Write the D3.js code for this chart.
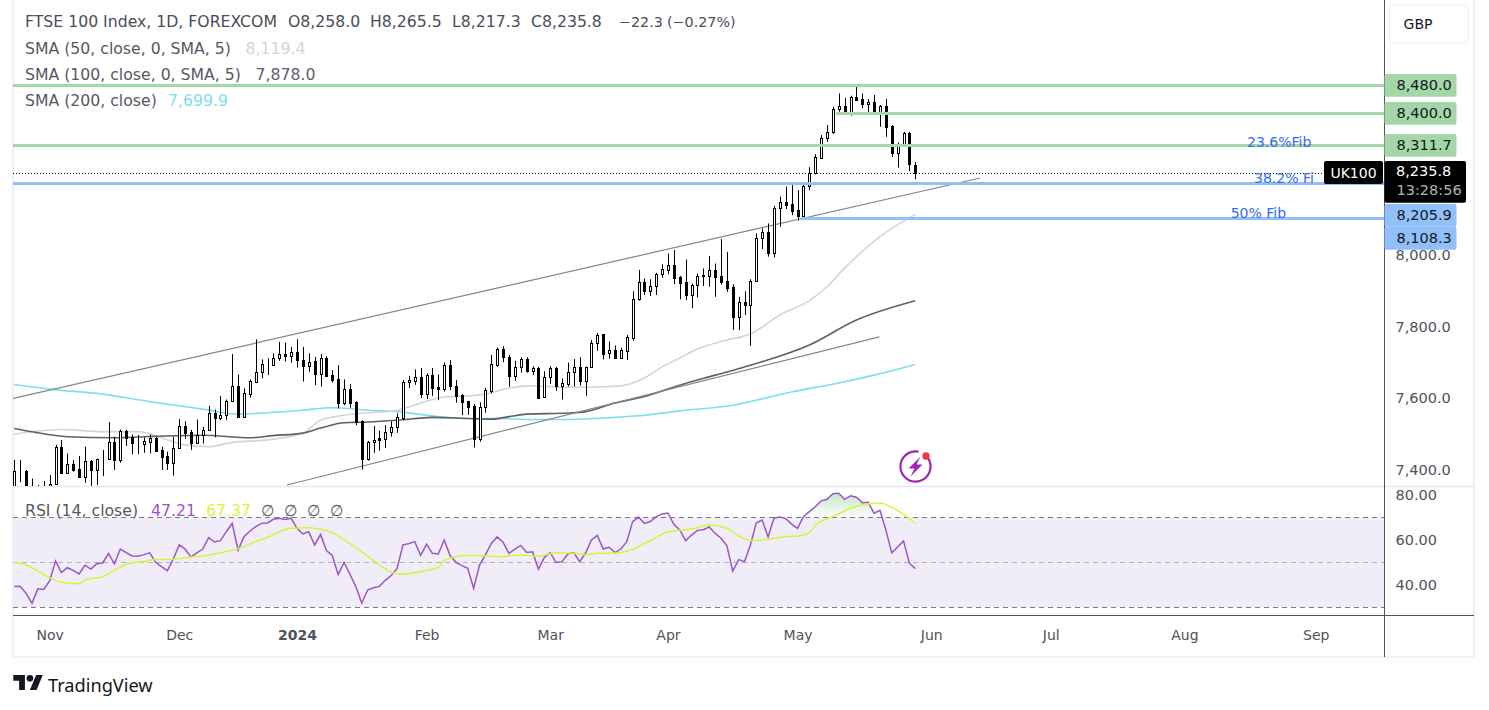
<!DOCTYPE html>
<html>
<head>
<meta charset="utf-8">
<title>FTSE 100 Index</title>
<script src="https://cdn.jsdelivr.net/npm/d3@7"></script>
<style>
body{margin:0;background:#fff;}
svg{display:block;}
text{font-family:"DejaVu Sans",sans-serif;}
</style>
</head>
<body>
<svg id="chart" width="1489" height="710"></svg>
<script>
// daily candles, one entry per bar
const opens=[7340,7402,7402,7349,7335,7345,7344,7367,7469,7397,7423,7408,7386,7429,7405,7437,7436,7482,7433,7513,7496,7482,7478,7484,7494,7461,7444,7425,7465,7527,7511,7481,7502,7517,7563,7551,7558,7597,7639,7554,7618,7652,7678,7700,7699,7717,7728,7724,7736,
7712,7696,7709,7674,7718,7670,7659,7592,7631,7594,7543,7436,7482,7493,7492,7510,7524,7551,7650,7654,7664,7618,7669,7636,7632,7697,7641,7614,7597,7583,7491,7580,7627,7699,7743,7720,7668,7692,7715,7682,7689,7608,7664,7689,7640,7646,7679,7692,7654,7693,7759,
7785,7731,7740,7718,7738,7775,7883,7929,7906,7918,7952,7965,7977,7944,7930,7895,7921,7948,7948,7963,7946,7932,7915,7833,7873,7867,7932,8052,8069,8012,8136,8153,8147,8131,8115,8198,8236,8278,8332,8350,8415,8423,8404,8446,8441,8427,8432,8406,8421,8366,8292,8317,8347,8258];
const highs=[7433,7433,7405,7381,7363,7374,7391,7475,7489,7451,7433,7444,7470,7433,7437,7461,7539,7498,7518,7517,7504,7503,7496,7504,7498,7470,7456,7498,7547,7541,7517,7546,7526,7584,7574,7612,7602,7729,7672,7633,7658,7770,7714,7717,7731,7763,7761,7749,7770,
7749,7731,7721,7729,7723,7684,7698,7658,7645,7597,7544,7486,7528,7515,7530,7541,7563,7656,7668,7686,7690,7675,7690,7672,7705,7712,7656,7617,7598,7589,7594,7634,7726,7747,7751,7727,7710,7720,7720,7695,7693,7681,7695,7693,7661,7705,7715,7720,7694,7768,7788,
7785,7764,7753,7746,7782,7904,7964,7940,7938,7956,7980,8010,8020,7947,7993,7926,7954,7968,8003,7982,8050,8014,7924,7889,7904,7938,8066,8080,8094,8143,8169,8197,8201,8187,8206,8251,8287,8341,8369,8420,8457,8445,8451,8475,8457,8442,8453,8425,8442,8369,8320,8350,8350,8265.5];
const lows=[7330,7371,7340,7320,7310,7315,7330,7365,7397,7397,7400,7383,7369,7360,7363,7388,7435,7405,7425,7472,7449,7449,7453,7451,7456,7405,7405,7389,7465,7492,7461,7481,7479,7515,7496,7544,7544,7596,7552,7552,7607,7652,7661,7670,7697,7710,7708,7705,7691,
7652,7679,7642,7638,7668,7649,7577,7586,7579,7530,7406,7431,7453,7459,7466,7498,7509,7544,7634,7643,7606,7603,7612,7600,7624,7628,7593,7558,7559,7468,7484,7565,7619,7693,7706,7638,7654,7677,7677,7670,7604,7607,7645,7626,7602,7638,7638,7641,7612,7693,7738,
7714,7716,7716,7716,7712,7766,7878,7894,7891,7894,7942,7952,7924,7882,7880,7857,7887,7919,7917,7889,7923,7903,7796,7796,7838,7752,7931,8022,8001,7999,8085,8134,8117,8102,8115,8187,8231,8276,8322,8344,8406,8402,8395,8436,8416,8404,8404,8364,8336,8280,8250,8316,8240,8217.3];
const closes=[7402,7402,7349,7335,7345,7340,7367,7469,7397,7423,7405,7386,7429,7405,7435,7437,7482,7433,7514,7493,7481,7482,7486,7493,7459,7442,7425,7465,7527,7509,7481,7502,7518,7563,7551,7558,7598,7639,7554,7619,7653,7678,7700,7700,7717,7728,7724,7736,7712,
7695,7708,7673,7718,7668,7656,7592,7630,7592,7540,7436,7483,7490,7489,7510,7524,7552,7650,7655,7664,7618,7669,7635,7632,7697,7640,7612,7596,7582,7491,7580,7628,7700,7743,7720,7668,7692,7714,7682,7689,7607,7664,7689,7640,7647,7680,7692,7654,7694,7759,7783,
7729,7740,7718,7740,7777,7884,7929,7906,7918,7952,7966,7977,7942,7928,7895,7922,7946,7949,7963,7945,7930,7914,7833,7873,7867,7933,8052,8069,8012,8136,8153,8145,8129,8115,8198,8236,8279,8332,8350,8415,8423,8406,8446,8439,8427,8432,8406,8421,8364,8292,8317,8346,8259,8235.8];

// moving averages read at a handful of bars
const sma50Bars=[0,8,15,21,26,29,33,37,43,49,52,56,60,65,69,73,77,80,84,88,94,99,103,107,110,113,116,121,125,130,135,138,141,147,153];
const sma50Values=[7505,7518,7512,7512,7489,7475,7470,7482,7489,7508,7544,7558,7565,7572,7592,7609,7612,7617,7634,7640,7636,7637,7640,7662,7693,7718,7743,7768,7785,7838,7878,7917,7969,8057,8119.4];
const sma100Bars=[0,3,9,17,24,32,40,44,49,52,56,60,65,71,77,81,84,87,94,97,102,107,113,119,124,135,143,153];
const sma100Values=[7521,7512,7498,7495,7499,7502,7495,7501,7508,7522,7537,7539,7544,7552,7549,7547,7554,7561,7564,7568,7592,7610,7642,7670,7693,7754,7824,7878];
const sma200Bars=[0,6,15,23,32,38,43,49,54,60,65,71,77,82,88,94,99,102,107,113,122,132,140,146,153];
const sma200Values=[7644,7631,7617,7596,7575,7561,7565,7572,7579,7572,7568,7556,7549,7549,7546,7546,7549,7552,7558,7570,7586,7623,7648,7670,7699.9];

const rsiValues=[39.2,39.3,36.2,31.8,38.2,37.9,41.7,50.6,45.4,47.6,46.4,44.8,48.7,47.0,49.4,49.7,53.9,49.3,55.9,54.3,52.8,52.7,53.4,54.2,50.0,48.1,46.3,51.5,57.7,55.9,52.4,54.2,55.9,61.0,59.0,59.6,63.6,67.3,55.3,61.4,63.8,65.9,67.3,67.5,69.1,69.6,69.0,69.6,65.1,62.6,63.6,57.7,62.4,55.2,53.0,44.5,49.9,44.7,39.2,31.9,37.7,38.7,39.3,42.0,44.1,47.3,57.7,58.3,59.2,53.1,58.0,54.0,53.7,59.9,53.0,50.0,48.5,47.3,38.4,48.8,
53.3,58.4,61.3,58.9,54.0,55.9,57.5,54.4,54.7,46.9,52.1,54.3,49.9,50.3,53.7,54.3,50.3,54.0,59.9,61.9,55.9,56.7,54.3,55.9,59.2,68.1,70.1,67.3,68.1,70.3,71.5,71.9,66.9,64.4,59.6,62.1,64.2,64.5,65.7,62.9,60.7,57.4,46.1,51.2,50.3,57.7,67.6,68.8,61.3,69.6,70.1,69.4,67.0,65.1,70.3,72.5,74.7,77.3,78.0,80.5,80.7,78.0,79.6,78.9,76.5,76.7,71.8,73.1,64.4,54.2,56.8,59.5,49.6,47.21];
const rsiSmaBars=[0,2,4,6,8,11,12,15,17,19,22,24,27,30,32,35,38,41,43,45,47,50,51,54,56,59,62,64,66,69,72,73,77,79,82,86,89,92,95,97,99,102,105,107,109,111,115,118,121,123,125,128,131,133,135,136,139,142,147,149,151,153];
const rsiSmaValues=[49.9,48.8,46.1,43.2,41.1,40.5,42.2,43.6,46.5,49.1,50.4,51.2,51.3,52.4,52.8,54.2,56.1,59.2,61,63.6,65.1,65.4,65.1,63.2,60.1,54.7,48.8,45.6,44.7,45.9,47.8,50.9,53,53,52.5,53.3,52.7,54.3,54,53.3,54,54.1,55.8,58.3,61,63.6,64.8,66.6,65.1,61.8,59.6,60.2,61.4,61.7,63.2,66.3,70.3,74,76.4,74.4,71.3,67.37];

// drawings on the price pane
const greenLevels=[8480,8400,8311.7];
const greenStarts=[-1,139.5,-1];
const blueLevels=[8205.9,8108.3];
const blueStarts=[-1,133.7];
const upperTrendBars=[-0.2,164];
const upperTrendPrices=[7605,8221];
const lowerTrendBars=[46.3,146.9];
const lowerTrendPrices=[7363,7777];
const fibLabels=["23.6%Fib","38.2% Fi","50% Fib"];
const lastPrice=8235.8;

const priceTicks=[8000,7800,7600,7400];
const rsiTicks=[80,60,40];
const timeBars=[6,28,48,70,91,111,133,155.7,176,198.7,221];
const timeLabels=["Nov","Dec","2024","Feb","Mar","Apr","May","Jun","Jul","Aug","Sep"];

const axisColor="#50535e", textColor="#4f525c";
const paneL=13, paneR=1384.5, priceBottom=486;
const legendSize=15.7, scaleSize=14.5;

const svg=d3.select("#chart");

const x=d3.scaleLinear().domain([0,153]).range([14.3,915.3]);
const yP=d3.scaleLinear().domain([8480,8108.3]).range([85.3,218.3]);
const yR=d3.scaleLinear().domain([70,30]).range([517.3,607.3]);

const defs=svg.append("defs");
defs.append("clipPath").attr("id","priceClip").append("rect")
    .attr("x",paneL).attr("y",0).attr("width",paneR-paneL).attr("height",priceBottom);
const grad=defs.append("linearGradient").attr("id","obFill")
    .attr("gradientUnits","userSpaceOnUse")
    .attr("x1",0).attr("x2",0).attr("y1",yR(81)).attr("y2",yR(70));
grad.append("stop").attr("offset",0).attr("stop-color","#4caf50").attr("stop-opacity",0.32);
grad.append("stop").attr("offset",1).attr("stop-color","#4caf50").attr("stop-opacity",0.02);

//frame
function frameLine(x1,y1,x2,y2,color,w){
    svg.append("line").attr("x1",x1).attr("y1",y1).attr("x2",x2).attr("y2",y2)
        .attr("stroke",color).attr("stroke-width",w);
}
frameLine(13,0,13,657,"#f0f0f7",2.5);
frameLine(13,657,1474,657,"#f0f0f7",2);
frameLine(1474,0,1474,657,"#f0f0f7",2);
frameLine(13,486.5,1474,486.5,"#e6e6ee",1.5);

//rsi background
svg.append("rect").attr("x",paneL).attr("y",yR(70)).attr("width",paneR-paneL).attr("height",yR(30)-yR(70)).attr("fill","#f0edf8");
[70,50,30].forEach(function(v){
    const yy=Math.round(yR(v))+0.5;
    svg.append("line").attr("x1",paneL).attr("x2",paneR).attr("y1",yy).attr("y2",yy)
        .attr("stroke",v==50?"#b2b0bc":"#787b86").attr("stroke-dasharray","5 4");
});

//price pane
const pane=svg.append("g").attr("clip-path","url(#priceClip)");

function drawSma(bars,values,color){
    const line=d3.line().x((d,i)=>x(bars[i])).y(d=>yP(d)).curve(d3.curveMonotoneX);
    pane.append("path").datum(values).attr("d",line).attr("fill","none")
        .attr("stroke",color).attr("stroke-width",1.6);
}
drawSma(sma200Bars,sma200Values,"#80deea");
drawSma(sma50Bars,sma50Values,"#d1d4dc");
drawSma(sma100Bars,sma100Values,"#5d606b");

function drawTrend(bars,prices){
    pane.append("line").attr("x1",x(bars[0])).attr("y1",yP(prices[0]))
        .attr("x2",x(bars[1])).attr("y2",yP(prices[1]))
        .attr("stroke","#85858f").attr("stroke-width",1.2);
}
drawTrend(upperTrendBars,upperTrendPrices);
drawTrend(lowerTrendBars,lowerTrendPrices);

//candles, snapped to the pixel grid so the outlines stay sharp
const barX=i=>Math.round(x(i))+0.5;
const snapY=p=>Math.round(yP(p))+0.5;
pane.selectAll("line.wick").data(closes).join("line").attr("class","wick")
    .attr("x1",(d,i)=>barX(i)).attr("x2",(d,i)=>barX(i))
    .attr("y1",(d,i)=>yP(highs[i])).attr("y2",(d,i)=>yP(lows[i]))
    .attr("stroke","#000").attr("stroke-width",1);
pane.selectAll("rect.body").data(closes).join("rect").attr("class","body")
    .attr("x",(d,i)=>barX(i)-1).attr("width",2)
    .attr("y",(d,i)=>snapY(Math.max(opens[i],d)))
    .attr("height",(d,i)=>Math.abs(snapY(opens[i])-snapY(d)))
    .attr("fill",(d,i)=>d>=opens[i]?"#fff":"#000")
    .attr("stroke","#000").attr("stroke-width",1);

//levels
const levelY=v=>Math.floor(yP(v))+0.5;
greenLevels.forEach(function(v,i){
    svg.append("line").attr("x1",greenStarts[i]<0?paneL:x(greenStarts[i])).attr("x2",paneR)
        .attr("y1",levelY(v)).attr("y2",levelY(v)).attr("stroke","#a5d6a7").attr("stroke-width",3);
});
blueLevels.forEach(function(v,i){
    svg.append("line").attr("x1",blueStarts[i]<0?paneL:x(blueStarts[i])).attr("x2",paneR)
        .attr("y1",levelY(v)).attr("y2",levelY(v)).attr("stroke","#90bff9").attr("stroke-width",3);
});
svg.append("line").attr("x1",paneL).attr("x2",paneR).attr("y1",Math.round(yP(lastPrice))+0.5).attr("y2",Math.round(yP(lastPrice))+0.5)
    .attr("stroke","#000").attr("stroke-dasharray","1 2");

function label(txt,px,py,color,size,anchor,weight){
    return svg.append("text").attr("x",px).attr("y",py).text(txt)
        .attr("fill",color).attr("font-size",size||14)
        .attr("text-anchor",anchor||"start").attr("font-weight",weight||"normal")
        .attr("dominant-baseline","central");
}
label(fibLabels[0],1247,141.7,"#2f6df6");
label(fibLabels[1],1254,177.7,"#2f6df6");
label(fibLabels[2],1230.7,213.3,"#2f6df6");

//rsi pane
const rsiLine=d3.line().x((d,i)=>x(i)).y(d=>yR(d));
const rsiArea=d3.area().x((d,i)=>x(i)).y0(yR(70)).y1(d=>yR(Math.max(d,70)));
svg.append("path").datum(rsiValues).attr("d",rsiArea).attr("fill","url(#obFill)");
svg.append("path").datum(rsiValues).attr("d",rsiLine).attr("fill","none")
    .attr("stroke","#9c54c9").attr("stroke-width",1.5);
const rsiSmaLine=d3.line().x((d,i)=>x(rsiSmaBars[i])).y(d=>yR(d)).curve(d3.curveMonotoneX);
svg.append("path").datum(rsiSmaValues).attr("d",rsiSmaLine).attr("fill","none")
    .attr("stroke","#d4f53a").attr("stroke-width",1.5);

//axes
const priceAxis=svg.append("g").attr("transform",`translate(${paneR},0)`)
    .call(d3.axisRight(yP).tickValues(priceTicks).tickSize(0).tickPadding(11).tickFormat(d3.format(",.1f")));
priceAxis.select(".domain").remove();
priceAxis.selectAll("text").attr("dy","0").attr("dominant-baseline","central")
    .attr("transform","translate(0,-2.3)").attr("font-size",scaleSize).attr("fill",textColor).attr("font-family",null);

const rsiAxis=svg.append("g").attr("transform",`translate(${paneR},0)`)
    .call(d3.axisRight(yR).tickValues(rsiTicks).tickSize(0).tickPadding(11).tickFormat(d3.format(".2f")));
rsiAxis.select(".domain").remove();
rsiAxis.selectAll("text").attr("dy","0").attr("dominant-baseline","central")
    .attr("font-size",scaleSize).attr("fill",textColor).attr("font-family",null);

const timeAxis=svg.append("g").attr("transform","translate(0,616)")
    .call(d3.axisBottom(x).tickValues(timeBars).tickSize(0).tickPadding(0).tickFormat((d,i)=>timeLabels[i]));
timeAxis.select(".domain").remove();
timeAxis.selectAll("text").attr("y",19).attr("dy","0").attr("dominant-baseline","central")
    .attr("font-size",14).attr("fill",textColor).attr("font-family",null)
    .attr("font-weight",d=>d==48?"bold":"normal");

frameLine(paneR,0,paneR,657,axisColor,1);
frameLine(13,615.5,1474,615.5,axisColor,1);

//price tags
function tag(txt,top,bottom,color){
    svg.append("rect").attr("x",paneR).attr("y",top).attr("width",72).attr("height",bottom-top)
        .attr("rx",2).attr("fill",color);
    label(txt,1396.5,(top+bottom)/2,"#131722",scaleSize);
}
tag("8,480.0",74,96.7,"#a5d6a7");
tag("8,400.0",102,124.7,"#a5d6a7");
tag("8,311.7",134,156.7,"#a5d6a7");
tag("8,205.9",204,226.7,"#90bff9");
tag("8,108.3",226.7,249.7,"#90bff9");

svg.append("rect").attr("x",1324).attr("y",161).attr("width",59).attr("height",23).attr("rx",2).attr("fill","#000");
label("UK100",1353.5,172.5,"#fff",14,"middle");
svg.append("rect").attr("x",paneR).attr("y",161).attr("width",81.5).attr("height",41.7).attr("rx",2).attr("fill","#000");
label("8,235.8",1396,171,"#fff",scaleSize);
label("13:28:56",1396.5,190,"#b2b2b2",scaleSize);

//currency button
svg.append("rect").attr("x",1389.5).attr("y",5).attr("width",79).attr("height",38).attr("rx",5)
    .attr("fill","#fff").attr("stroke","#ececf2");
label("GBP",1418,24,"#131722",14,"middle");

//legend
const headParts=[["FTSE 100 Index, 1D, FOREXCOM",25],["O8,258.0",288],["H8,265.5",370],["L8,217.3",452],["C8,235.8",531]];
headParts.forEach(p=>label(p[0],p[1],21.5,"#4a4d57",legendSize));
label("\u221222.3",619,21.5,"#4a4d57",14.3);
label("(\u22120.27%)",667,21.5,"#4a4d57",14.3);
label("SMA (50, close, 0, SMA, 5)",25,48,"#55585f",legendSize);
label("8,119.4",245.5,48,"#d1d4dc",legendSize);
label("SMA (100, close, 0, SMA, 5)",25,74,"#55585f",legendSize);
label("7,878.0",255.5,74,"#5d606b",legendSize);
label("SMA (200, close)",25,100,"#55585f",legendSize);
label("7,699.9",168,100,"#80deea",legendSize);

label("RSI (14, close)",25,510,"#55585f",legendSize);
label("47.21",151,510,"#9c54c9",legendSize);
label("67.37",206,510,"#d4f53a",legendSize);
[261,284,307,330].forEach(px=>label("\u2205",px,510,"#55585f",legendSize));

//lightning badge
const badge=svg.append("g").attr("transform","translate(915.5,466.5)");
badge.append("path").attr("fill","#9c27b0")
    .attr("d",d3.arc().innerRadius(14).outerRadius(16.2).startAngle(0.98).endAngle(2*Math.PI+0.2)());
badge.append("path").attr("fill","#9c27b0").attr("d","M5,-10 L-7,2 L-1,2 L-5,10 L7,-2 L1,-2 Z");
badge.append("circle").attr("cx",10.5).attr("cy",-10.5).attr("r",3.7).attr("fill","#f23645");

//logo
const logo=svg.append("g").attr("transform","translate(13.3,671.7) scale(0.83)").attr("fill","#131722");
logo.append("path").attr("d","M14 22H7V11H0V4h14v18zM28 22h-8l7.5-18h8L28 22z");
logo.append("circle").attr("cx",20).attr("cy",8).attr("r",4);
label("TradingView",48,684.5,"#131722",18.2).style("font-family","'Noto Sans',sans-serif");
</script>
</body>
</html>
